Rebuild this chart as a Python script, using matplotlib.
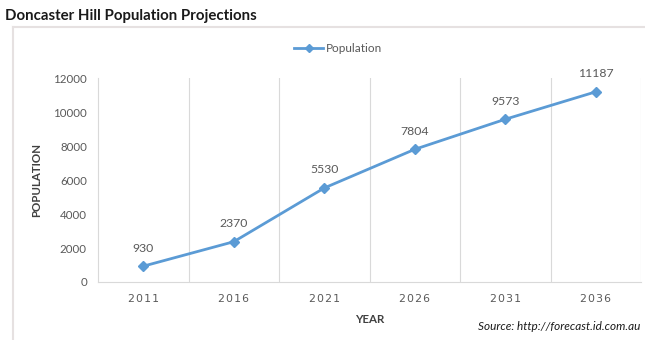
import matplotlib
matplotlib.use("Agg")
import matplotlib.pyplot as plt
from matplotlib.lines import Line2D

years = ["2011", "2016", "2021", "2026", "2031", "2036"]
population = [930, 2370, 5530, 7804, 9573, 11187]
y_ticks = [0, 2000, 4000, 6000, 8000, 10000, 12000]

plt.rcParams['font.family'] = ['Lato', 'DejaVu Sans']

W, H = 645, 340
fig = plt.figure(figsize=(W / 100, H / 100), dpi=100)
fig.patch.set_facecolor("white")

# outer frame (light grey)
fig.add_artist(Line2D([13 / W, 13 / W], [0, 1 - 27 / H], transform=fig.transFigure,
                      color="#E6E1E1", lw=1.5))
fig.add_artist(Line2D([13 / W, 1], [1 - 27 / H, 1 - 27 / H], transform=fig.transFigure,
                      color="#E6E1E1", lw=1.5))

ax = fig.add_axes([98 / W, 1 - 282 / H, (641 - 98) / W, (282 - 78) / H])
x = list(range(len(years)))
color = "#5B9BD5"
line, = ax.plot(x, population, color=color, lw=2, marker="D", markersize=5.5,
                label="Population")

ax.set_xlim(-0.5, len(years) - 0.5)
ax.set_ylim(0, 12000)
ax.set_yticks(y_ticks)
ax.set_yticklabels([str(v) for v in y_ticks], fontsize=8.3, color="#595959")
ax.set_xticks(x)
ax.set_xticklabels(["\u200a".join(y) for y in years], fontsize=7.8, color="#595959",
                   family=['DejaVu Sans'])
ax.tick_params(length=0, pad=8)
ax.tick_params(axis='x', pad=9)

# vertical gridlines at category boundaries
for b in range(1, len(years) + 1):
    ax.axvline(b - 0.5, color="#D9D9D9", lw=0.8, zorder=0)
for s in ["top", "right"]:
    ax.spines[s].set_visible(False)
for s in ["left", "bottom"]:
    ax.spines[s].set_color("#D9D9D9")
    ax.spines[s].set_linewidth(0.8)

for xi, v in zip(x, population):
    ax.annotate(str(v), (xi, v), xytext=(0, 9), textcoords="offset points",
                ha="center", va="bottom", fontsize=8.8, color="#595959")

ax.set_xlabel("YEAR", fontsize=8.3, fontweight="bold", color="#404040", labelpad=7)
ax.set_ylabel("POPULATION", fontsize=8.3, fontweight="bold", color="#404040", labelpad=8)

fig.legend(handles=[line], loc="center", bbox_to_anchor=(338 / W, 1 - 49 / H),
           frameon=False, fontsize=8.5, labelcolor="#595959", handlelength=2.5,
           handletextpad=0.2, markerscale=0.8)

fig.text(5 / W, 1 - 16 / H, "Doncaster Hill Population Projections", fontsize=10.8,
         fontweight="bold", color="#1a1a1a", va="center", ha="left")
fig.text(640 / W, 1 - 327 / H, "Source: http://forecast.id.com.au", fontsize=8.5,
         style="italic", color="#1a1a1a", va="center", ha="right")

fig.savefig("out.png", dpi=100, facecolor="white")
